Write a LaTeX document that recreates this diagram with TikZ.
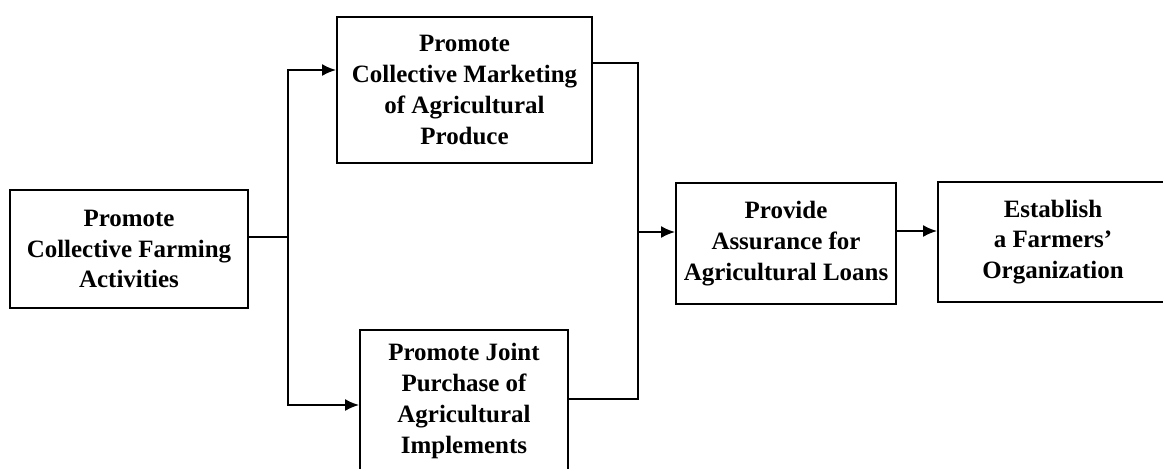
\documentclass[tikz,border=0pt]{standalone}
\usepackage{fontspec}
\setmainfont{Liberation Serif}
\usetikzlibrary{arrows.meta}

\begin{document}
\begin{tikzpicture}[x=0.02cm,y=-0.02cm,>={Latex[length=2.8mm,width=2.4mm]},line width=1.1pt,
                    box/.style={draw,inner sep=0pt,align=center,
                      font=\fontsize{14.2}{17.5}\selectfont\bfseries}]
    \useasboundingbox (0,0) rectangle (1163,468);
    \clip (0,0) rectangle (1163,468);

    \node[box,minimum width=4.76cm,minimum height=2.36cm] (farming)   at (129,249)
        {Promote\\Collective Farming\\Activities};
    \node[box,minimum width=5.1cm,minimum height=2.92cm]  (marketing) at (464.5,90)
        {Promote\\Collective Marketing\\of Agricultural\\Produce};
    \node[box,minimum width=4.16cm,minimum height=2.84cm] (purchase)  at (464,401)
        {Promote Joint\\Purchase of\\Agricultural\\Implements};
    \node[box,minimum width=4.4cm,minimum height=2.42cm]  (loans)     at (786,243.5)
        {Provide\\Assurance for\\Agricultural Loans};
    \node[box,minimum width=4.6cm,minimum height=2.4cm]   (org)       at (1053,242)
        {Establish\\a Farmers'\\Organization};

    \coordinate (split) at (288,237);
    \coordinate (toM)   at (288,70);
    \coordinate (toP)   at (288,405);
    \coordinate (fromM) at (638,63);
    \coordinate (fromP) at (638,399);
    \coordinate (merge) at (638,232);
    \coordinate (toO)   at (900,231);

    \draw (farming.east |- split) -- (split);
    \draw[->] (split) |- (marketing.west |- toM);
    \draw[->] (split) |- (purchase.west |- toP);
    \draw (marketing.east |- fromM) -| (merge);
    \draw (purchase.east |- fromP) -| (merge);
    \draw[->] (merge) -- (loans.west |- merge);
    \draw[->] (loans.east |- toO) -- (org.west |- toO);
\end{tikzpicture}
\end{document}
